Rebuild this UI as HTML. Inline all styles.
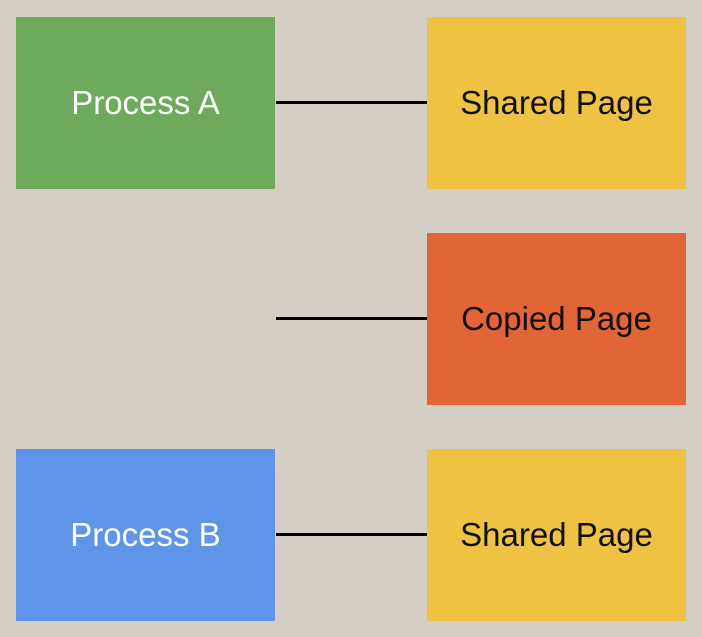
<!DOCTYPE html>
<html><head><style>
html,body{margin:0;padding:0;}
body{width:702px;height:637px;background:#d5cec4;position:relative;overflow:hidden;font-family:"Liberation Sans","Noto Sans CJK KR",sans-serif;}
.b{position:absolute;width:259px;height:172px;display:flex;align-items:center;justify-content:center;font-size:33px;}
.l{position:absolute;left:276px;width:151px;height:3px;background:#000;}
</style></head><body>
<div class="b" style="left:16px;top:17px;background:#6daa5c;color:#fff;">Process A</div>
<div class="b" style="left:427px;top:17px;background:#efc244;color:#111;">Shared Page</div>
<div class="b" style="left:427px;top:233px;background:#e16537;color:#111;">Copied Page</div>
<div class="b" style="left:16px;top:449px;background:#5f95e9;color:#fff;">Process B</div>
<div class="b" style="left:427px;top:449px;background:#efc244;color:#111;">Shared Page</div>
<div class="l" style="top:101px;"></div>
<div class="l" style="top:317px;"></div>
<div class="l" style="top:533px;"></div>
</body></html>
